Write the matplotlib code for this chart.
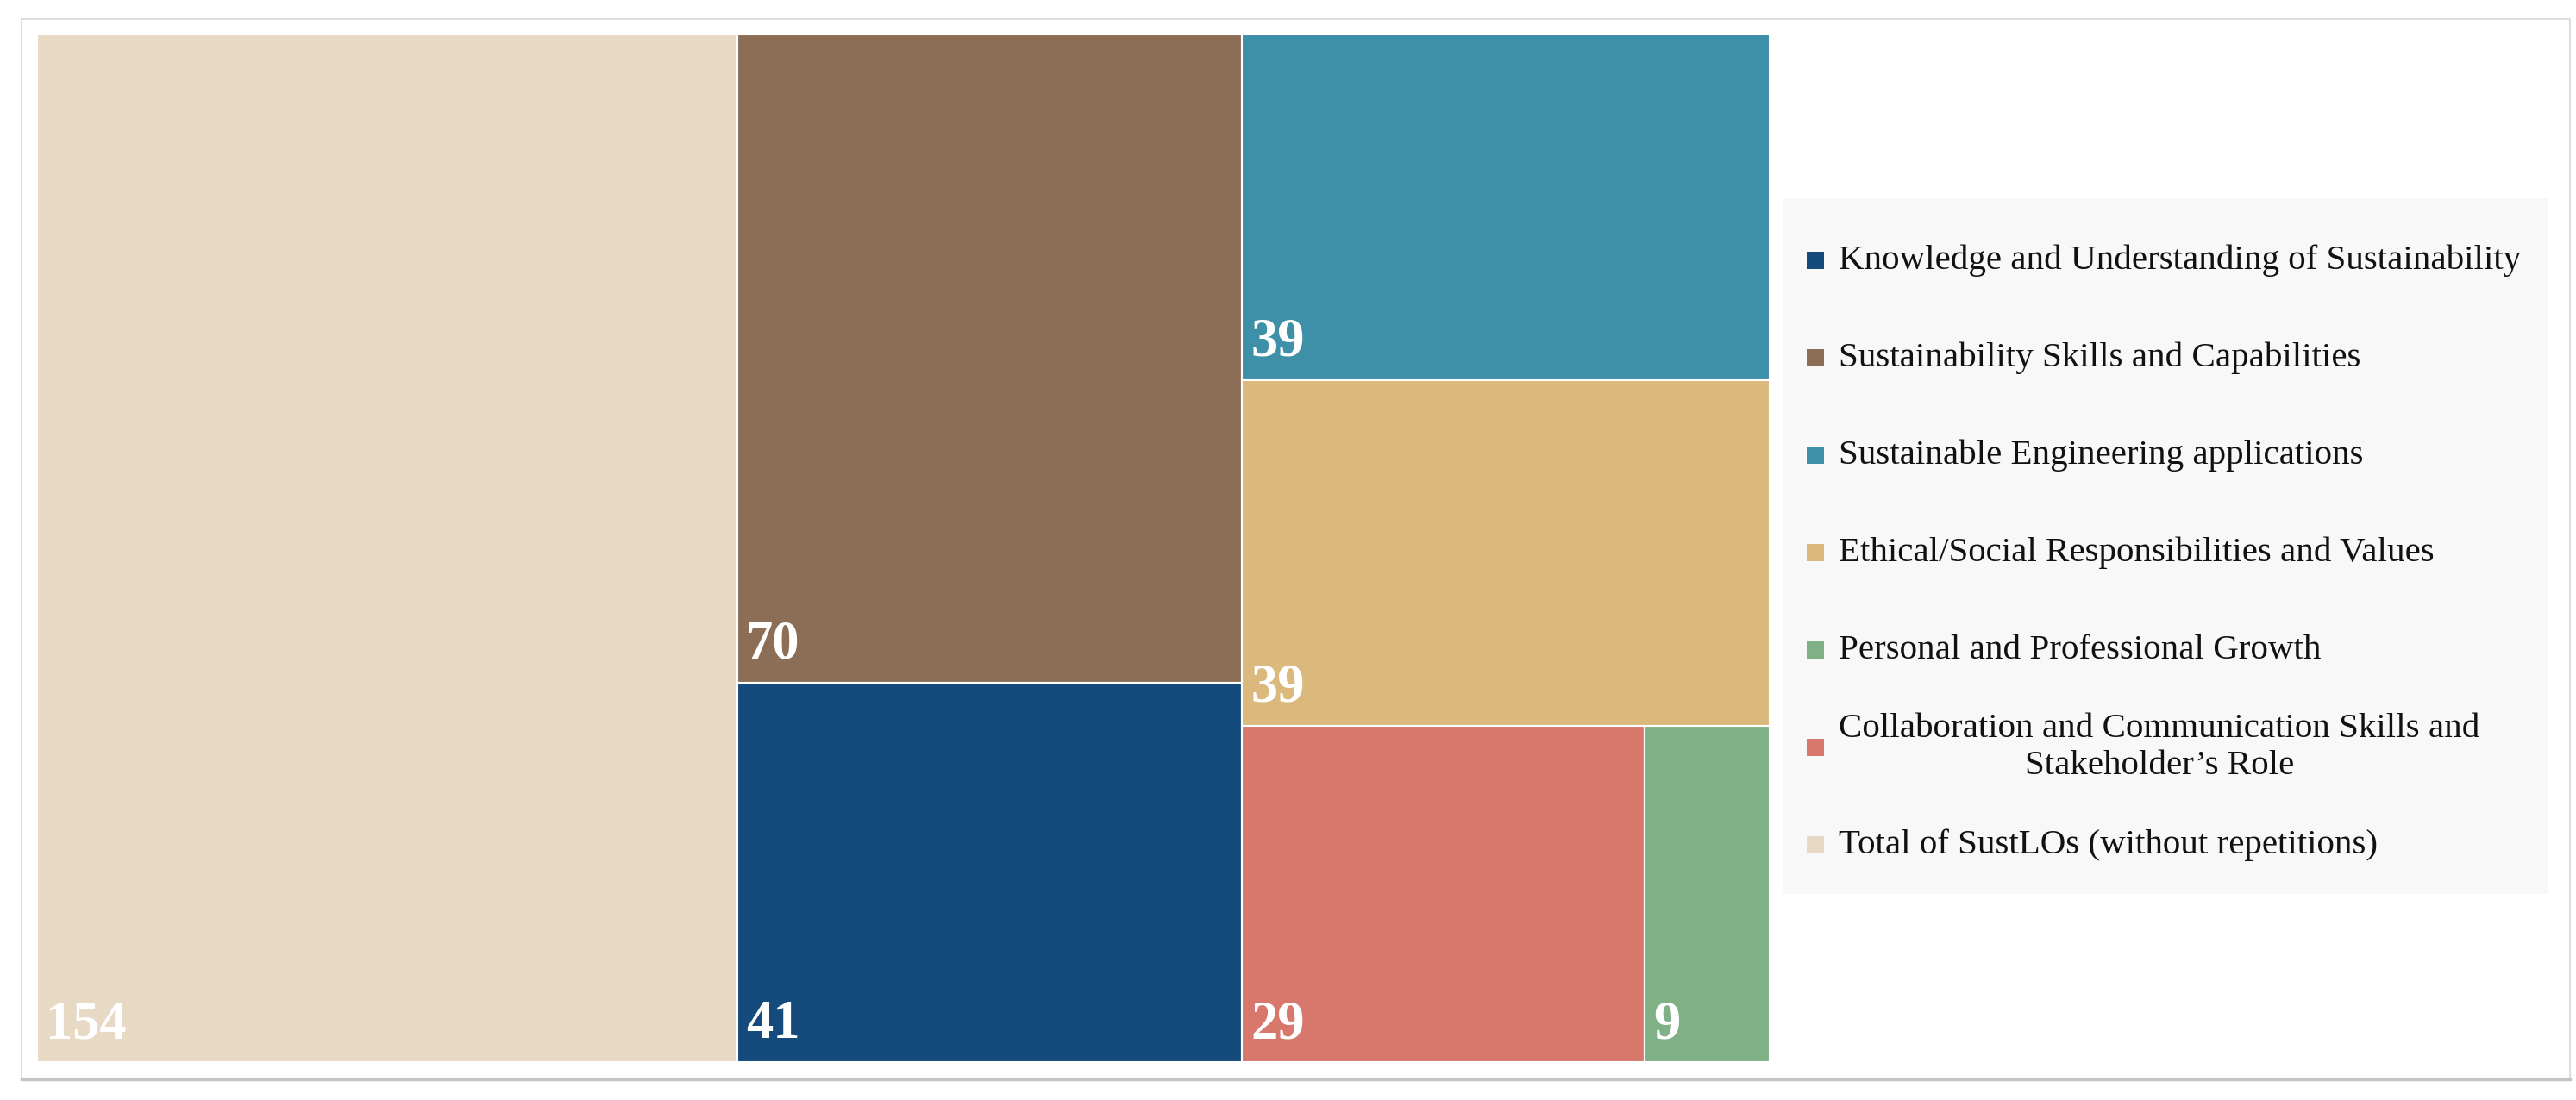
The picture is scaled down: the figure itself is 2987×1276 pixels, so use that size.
# treemap of SustLO categories with a legend box on the right

import matplotlib.pyplot as plt
from matplotlib.patches import Rectangle
from matplotlib.lines import Line2D

plt.rcParams['font.family'] = ['Liberation Serif', 'DejaVu Serif']

# data
categories = ['Knowledge and Understanding of Sustainability',
              'Sustainability Skills and Capabilities',
              'Sustainable Engineering applications',
              'Ethical/Social Responsibilities and Values',
              'Personal and Professional Growth',
              'Collaboration and Communication Skills and\nStakeholder\u2019s Role',
              'Total of SustLOs (without repetitions)']
values = [41, 70, 39, 39, 9, 29, 154]
colors = ['#154a7c', '#8b6e55', '#3e8fa8', '#dbb87c', '#80b086', '#d8786c', '#e8d9c5']

# treemap grouping: columns left to right, cells top to bottom, a sub-list is a row
columns = [[6], [1, 0], [2, 3, [5, 4]]]

W, H = 2987, 1276
fig = plt.figure(figsize=(W / 100, H / 100), dpi=100)

# outer frame
fig.add_artist(Rectangle((25 / W, 1 - 1252 / H), (2980 - 25) / W, (1252 - 22) / H,
                         transform=fig.transFigure, facecolor='white',
                         edgecolor='#dedede', linewidth=1.5, zorder=0))
fig.add_artist(Line2D([25 / W, 2980 / W], [1 - 1252 / H, 1 - 1252 / H],
                      transform=fig.transFigure, color='#c4c4c4', linewidth=2.5))

# treemap axes
ax = fig.add_axes([43 / W, 1 - 1232 / H, (2052 - 43) / W, (1232 - 40) / H])
ax.set_xlim(0, 1)
ax.set_ylim(0, 1)
ax.axis('off')


def cell_value(c):
    if isinstance(c, list):
        return sum(values[i] for i in c)
    return values[c]


def draw_cell(idx, x0, y0, w, h):
    ax.add_patch(Rectangle((x0, y0), w, h, facecolor=colors[idx],
                           edgecolor='white', linewidth=1.5))
    ax.annotate(str(values[idx]), xy=(x0, y0), xytext=(7, 20),
                textcoords='offset points', ha='left', va='baseline',
                color='white', fontsize=45, fontweight='bold')


total = sum(values)
x = 0.0
for col in columns:
    colsum = sum(cell_value(c) for c in col)
    cw = colsum / total
    ytop = 1.0
    for c in col:
        ch = cell_value(c) / colsum
        y0 = ytop - ch
        if isinstance(c, list):
            xr = x
            for i in c:
                rw = cw * values[i] / cell_value(c)
                draw_cell(i, xr, y0, rw, ch)
                xr += rw
        else:
            draw_cell(c, x, y0, cw, ch)
        ytop = y0
    x += cw

# legend box
lx0, lx1, ly0, ly1 = 2067, 2955, 230, 1037
lax = fig.add_axes([lx0 / W, 1 - ly1 / H, (lx1 - lx0) / W, (ly1 - ly0) / H])
lax.set_xlim(lx0, lx1)
lax.set_ylim(ly1, ly0)
lax.set_facecolor('#f8f8f8')
for s in lax.spines.values():
    s.set_visible(False)
lax.set_xticks([])
lax.set_yticks([])

first_y, step = 302, 113
for i, (lab, col) in enumerate(zip(categories, colors)):
    yc = first_y + i * step
    lax.add_patch(Rectangle((2095, yc - 10), 20, 20, facecolor=col, edgecolor='none'))
    lax.text(2132, yc, lab, ha='left', va='center', fontsize=29.5,
             color='#111111', multialignment='center', linespacing=1.2)

plt.savefig('out.png', dpi=100)
